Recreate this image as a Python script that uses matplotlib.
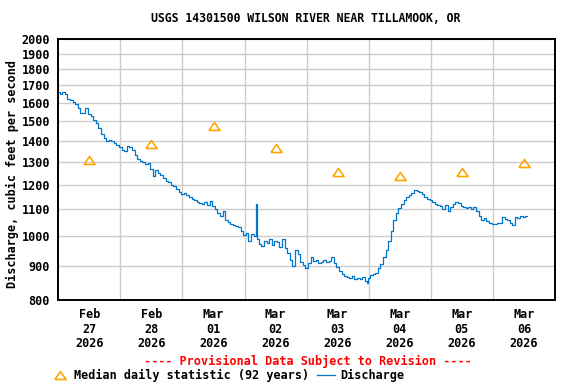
import matplotlib
matplotlib.use('Agg')
import matplotlib.pyplot as plt
import pandas as pd

hours = [0, 1, 2, 3, 4, 5, 6, 7, 8, 9, 10, 11, 12, 13, 14, 15, 16, 17, 18, 19,
         20, 21, 22, 23, 24, 25, 26, 27, 28, 29, 30, 31, 32, 33, 34, 35, 36, 37, 38, 39,
         40, 41, 42, 43, 44, 45, 46, 47, 48, 49, 50, 51, 52, 53, 54, 55, 56, 57, 58, 59,
         60, 61, 62, 63, 64, 65, 66, 67, 68, 69, 70, 71, 72, 73, 74, 75, 76, 76.5, 77, 78,
         79, 80, 81, 82, 83, 84, 85, 86, 87, 88, 89, 90, 91, 92, 93, 94, 95, 96, 97, 98,
         99, 100, 101, 102, 103, 104, 105, 106, 107, 108, 109, 110, 111, 112, 113, 114, 115, 116, 117, 118,
         119, 119.6, 120, 121, 122, 123, 124, 125, 126, 127, 128, 129, 130, 131, 132, 133, 134, 135, 136, 137,
         138, 139, 140, 141, 142, 143, 144, 145, 146, 147, 148, 149, 150, 151, 152, 153, 154, 155, 156, 157,
         158, 159, 160, 161, 162, 163, 164, 165, 166, 167, 168, 169, 170, 171, 172, 173, 174, 175, 176, 177,
         178, 179, 180, 181]
flow = [1660, 1648, 1662, 1650, 1618, 1612, 1602, 1590, 1568, 1545, 1540, 1568, 1538, 1525, 1505, 1490, 1462, 1432, 1412, 1400,
        1405, 1398, 1388, 1380, 1370, 1356, 1350, 1372, 1370, 1354, 1332, 1312, 1305, 1300, 1288, 1296, 1268, 1238, 1262, 1248,
        1240, 1228, 1215, 1210, 1200, 1192, 1180, 1168, 1160, 1165, 1155, 1148, 1142, 1138, 1130, 1125, 1120, 1130, 1115, 1132,
        1112, 1100, 1085, 1075, 1095, 1060, 1052, 1045, 1040, 1038, 1035, 1020, 1005, 1012, 985, 1008, 1000, 1122, 990, 975,
        968, 985, 978, 990, 972, 985, 980, 965, 990, 960, 945, 920, 900, 955, 940, 915, 905, 895, 912, 930,
        918, 920, 912, 915, 920, 915, 918, 930, 910, 898, 885, 875, 870, 868, 865, 870, 862, 865, 860, 866,
        855, 848, 865, 872, 875, 880, 895, 908, 930, 955, 985, 1020, 1060, 1085, 1105, 1120, 1135, 1148, 1155, 1165,
        1178, 1172, 1168, 1160, 1150, 1140, 1135, 1128, 1122, 1115, 1112, 1100, 1118, 1095, 1110, 1120, 1128, 1125, 1112, 1108,
        1105, 1110, 1100, 1108, 1095, 1075, 1060, 1065, 1055, 1048, 1045, 1045, 1048, 1050, 1072, 1062, 1060, 1050, 1042, 1072,
        1065, 1075, 1070, 1075]

median_flow = [1310, 1385, 1475, 1365, 1255, 1238, 1255, 1295]
yticks = [800, 900, 1000, 1100, 1200, 1300, 1400, 1500, 1600, 1700, 1800, 1900, 2000]

start = pd.Timestamp('2026-02-27 00:00')
noons = pd.date_range('2026-02-27 12:00', periods=8, freq='D')
midnights = pd.date_range('2026-02-28 00:00', periods=7, freq='D')
times = start + pd.to_timedelta(hours, unit='h')

mono = {'family': 'DejaVu Sans Mono', 'weight': 'bold', 'size': 8.5}
plt.rcParams['font.family'] = 'DejaVu Sans Mono'
plt.rcParams['font.weight'] = 'bold'

fig = plt.figure(figsize=(5.76, 3.84), dpi=100)
ax = fig.add_axes([0.1012, 0.21875, 0.8623, 0.6797])

line, = ax.plot(times, flow, color='#0077CC', lw=0.9, drawstyle='steps-mid', label='Discharge')
tri = [(-1, -0.72), (1, -0.72), (0, 0.72), (-1, -0.72)]
med, = ax.plot(noons, median_flow, ls='none', marker=tri, ms=8, mfc='none',
               mec='#FFA500', mew=1.2, label='Median daily statistic (92 years)')

ax.set_yscale('log')
ax.set_ylim(800, 2000)
ax.set_xlim(start, start + pd.Timedelta(days=8))
ax.set_yticks(yticks)
ax.set_yticklabels([str(v) for v in yticks], fontdict=mono)
ax.yaxis.set_minor_locator(matplotlib.ticker.NullLocator())

ax.set_xticks(noons)
ax.set_xticklabels([d.strftime('%b\n%d\n%Y') for d in noons], fontdict=mono, linespacing=1.15)
ax.set_xticks(midnights, minor=True)
ax.grid(which='minor', axis='x', color='#CCCCCC', lw=1)
ax.grid(which='major', axis='y', color='#CCCCCC', lw=1)
ax.tick_params(which='both', length=0)
ax.tick_params(axis='y', pad=6)
ax.tick_params(axis='x', pad=6)
for s in ax.spines.values():
    s.set_linewidth(1.4)

fig.text(306 / 576, 1 - 19 / 384, 'USGS 14301500 WILSON RIVER NEAR TILLAMOOK, OR',
         ha='center', va='center', fontsize=8.3, fontweight='bold')
fig.text(12 / 576, 1 - 174 / 384, 'Discharge, cubic feet per second', rotation=90,
         ha='center', va='center', fontsize=8.5, fontweight='bold')
fig.text(308 / 576, 1 - 361.5 / 384, '---- Provisional Data Subject to Revision ----',
         ha='center', va='center', fontsize=8.5, fontweight='bold', color='red')

fig.legend(handles=[med, line], loc='center left', bbox_to_anchor=(51 / 576, 1 - 375.5 / 384),
           ncol=2, frameon=False, prop=mono, handlelength=1.45, handletextpad=0.5,
           columnspacing=0.7, borderpad=0, borderaxespad=0)

fig.savefig('out.png', dpi=100)
